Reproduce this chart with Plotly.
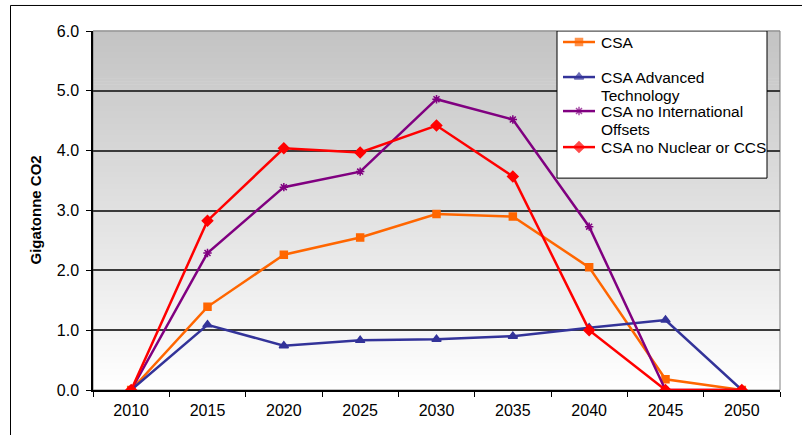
import plotly.graph_objects as go

# Emission reductions by scenario (Gigatonne CO2)
years = ["2010", "2015", "2020", "2025", "2030", "2035", "2040", "2045", "2050"]
csa = [0.0, 1.39, 2.26, 2.55, 2.94, 2.90, 2.05, 0.18, 0.0]
csa_adv_tech = [0.0, 1.09, 0.74, 0.83, 0.85, 0.90, 1.04, 1.17, 0.0]
csa_no_offsets = [0.0, 2.29, 3.39, 3.65, 4.86, 4.52, 2.73, 0.0, 0.0]
csa_no_nuclear = [0.0, 2.83, 4.04, 3.97, 4.42, 3.57, 1.0, 0.0, 0.0]

series_names = ["CSA", "CSA Advanced Technology",
                "CSA no International Offsets", "CSA no Nuclear or CCS"]
legend_lines = [["CSA"], ["CSA Advanced", "Technology"],
                ["CSA no International", "Offsets"], ["CSA no Nuclear or CCS"]]
y_ticks = [0, 1, 2, 3, 4, 5, 6]

FONT = "Liberation Sans, Arial, sans-serif"

# Plot area in pixels (used for the overlay legend axis)
PL, PR, PT, PB = 93, 780, 31, 389.7

fig = go.Figure()

styles = [
    ("#FF6600", "square", 7),
    ("#333399", "triangle-up", 8),
    ("#800080", "asterisk-open", 7),
    ("#FF0000", "diamond", 8),
]
series_values = [csa, csa_adv_tech, csa_no_offsets, csa_no_nuclear]
for name, vals, (color, sym, size) in zip(series_names, series_values, styles):
    fig.add_trace(go.Scatter(
        x=years, y=vals, name=name, mode="lines+markers", showlegend=False,
        line=dict(color=color, width=2.5),
        marker=dict(symbol=sym, size=size, color=color,
                    line=dict(color=color, width=1.5)),
    ))

# Legend box drawn on a pixel-scaled overlay axis
LX0, LX1, LY0, LY1 = 557, 767, 31, 178
fig.add_trace(go.Scatter(
    x=[LX0, LX1, LX1, LX0, LX0], y=[LY0, LY0, LY1, LY1, LY0],
    xaxis="x2", yaxis="y2", mode="lines", fill="toself", fillcolor="white",
    line=dict(color="black", width=1), hoverinfo="skip", showlegend=False,
))
row_y = [42, 77, 111, 147]
line_gap = 18
annotations = []
for (color, sym, size), ry, lines in zip(styles, row_y, legend_lines):
    fig.add_trace(go.Scatter(
        x=[563, 579, 595], y=[ry, ry, ry], xaxis="x2", yaxis="y2",
        mode="lines+markers", cliponaxis=False, hoverinfo="skip", showlegend=False,
        line=dict(color=color, width=2.5),
        marker=dict(symbol=sym, size=[0, size, 0], color=color,
                    line=dict(color=color, width=1.5)),
    ))
    for k, txt in enumerate(lines):
        annotations.append(dict(
            text=txt, xref="x2", yref="y2", x=599, y=ry + k * line_gap,
            xanchor="left", yanchor="middle", showarrow=False,
            font=dict(family=FONT, size=15.5, color="black")))

annotations.append(dict(text="<b>Gigatonne CO2</b>", textangle=-90,
                        xref="paper", yref="paper", x=(35 - PL) / (PR - PL), y=0.5,
                        xanchor="center", yanchor="middle", showarrow=False,
                        font=dict(family=FONT, size=15, color="black")))

# Vertical grey-to-white gradient behind the plot area
shapes = []
n_bands = 120
for i in range(n_bands):
    y0 = i / n_bands
    y1 = (i + 1) / n_bands
    t = (y0 + y1) / 2
    g = int(round(255 - 60 * t))
    shapes.append(dict(type="rect", xref="paper", yref="paper",
                       x0=0, x1=1, y0=y0, y1=y1 + 0.002, layer="below",
                       line=dict(width=0), fillcolor=f"rgb({g},{g},{g})"))
# Plot-area outline
shapes.append(dict(type="rect", xref="paper", yref="paper", x0=0, x1=1, y0=0, y1=1,
                   layer="below", line=dict(color="#808080", width=1),
                   fillcolor="rgba(0,0,0,0)"))
# Chart-area frame
shapes.append(dict(type="rect", xref="paper", yref="paper",
                   x0=(10.5 - PL) / (PR - PL), x1=1.2, y0=-0.3,
                   y1=(PB - 5.5) / (PB - PT),
                   layer="below", line=dict(color="#000000", width=1),
                   fillcolor="rgba(0,0,0,0)"))

fig.update_layout(
    width=802, height=435,
    margin=dict(l=PL, r=802 - PR, t=PT, b=435 - PB),
    paper_bgcolor="white", plot_bgcolor="white",
    font=dict(family=FONT, size=16, color="black"),
    shapes=shapes, annotations=annotations,
    showlegend=False,
    xaxis=dict(type="category", range=[-0.5, 8.5], tickson="boundaries",
               ticks="outside", ticklen=5, tickcolor="black", tickwidth=1,
               ticklabelstandoff=5,
               showline=True, linecolor="black", linewidth=1.5,
               showgrid=False, zeroline=False,
               tickfont=dict(family=FONT, size=16)),
    yaxis=dict(range=[0, 6], tickvals=y_ticks, tickformat=".1f",
               ticks="outside", ticklen=5, tickcolor="black", tickwidth=1,
               ticklabelstandoff=4,
               showline=True, linecolor="black", linewidth=1.5,
               showgrid=True, gridcolor="#3a3a3a", gridwidth=1.5,
               zeroline=False, tickfont=dict(family=FONT, size=16)),
    xaxis2=dict(overlaying="x", range=[PL, PR], visible=False, fixedrange=True),
    yaxis2=dict(overlaying="y", range=[PB, PT], visible=False, fixedrange=True),
)

fig.write_html("out.html")
